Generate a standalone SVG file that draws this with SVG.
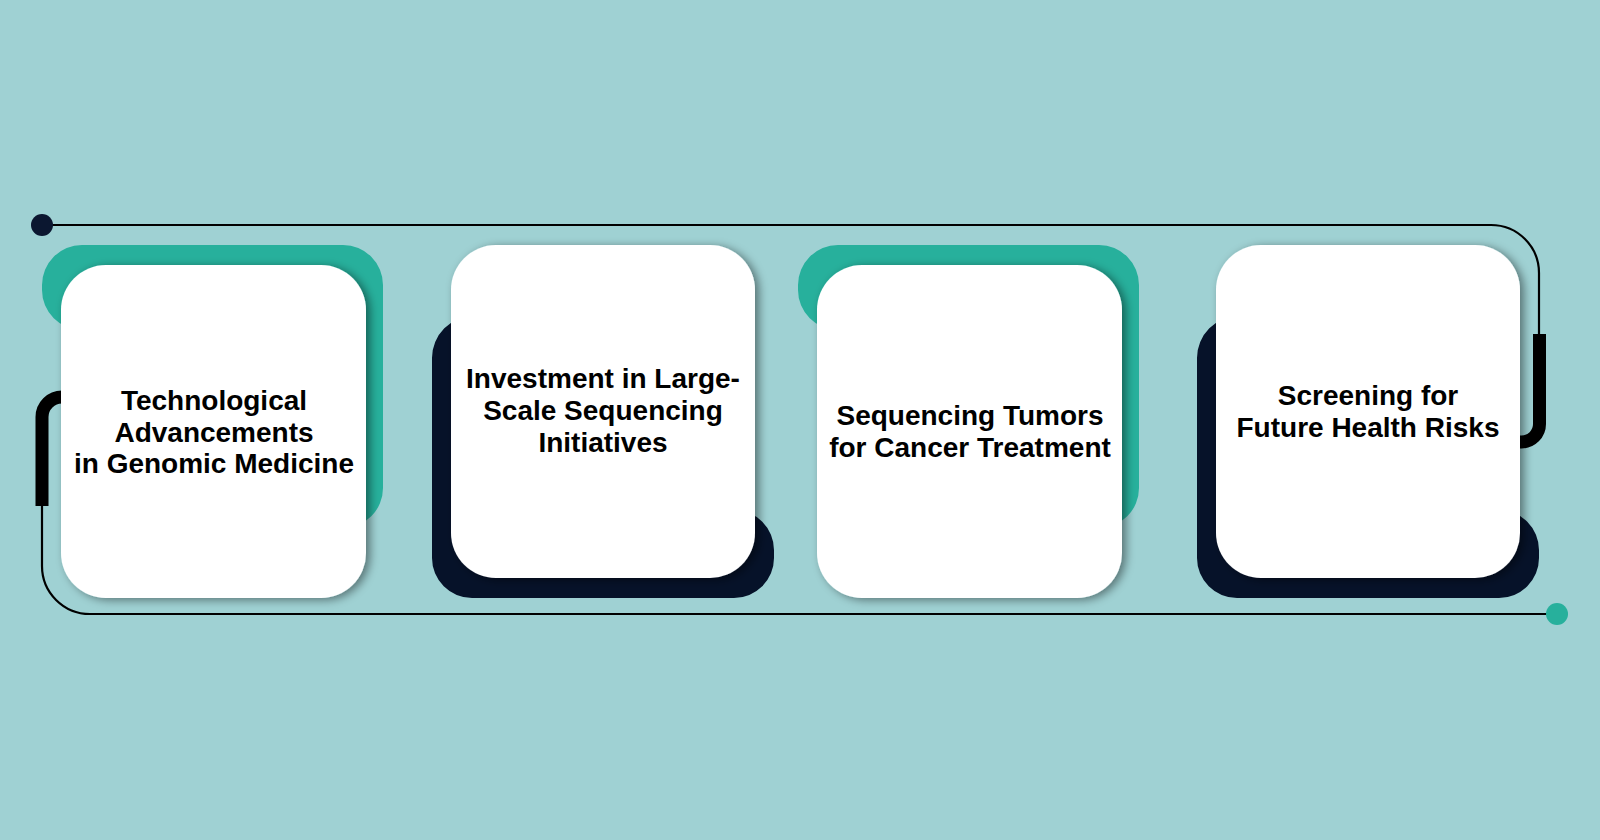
<svg xmlns="http://www.w3.org/2000/svg" width="1600" height="840" viewBox="0 0 1600 840">
  <defs>
    <style>
      .bg { fill: #9fd1d3; }
      .teal { fill: #27b09c; }
      .navy { fill: #061229; }
      .card { fill: #ffffff; filter: url(#shadow); }
      .label { font-family: "Liberation Sans", Arial, sans-serif; font-weight: bold; font-size: 28px; fill: #000000; text-anchor: middle; }
      .thin { fill: none; stroke: #000000; stroke-width: 2.2; }
      .thick { fill: none; stroke: #000000; stroke-width: 13; }
    </style>
    <filter id="shadow" x="-20%" y="-20%" width="140%" height="140%">
      <feDropShadow dx="4" dy="2" stdDeviation="5" flood-color="#000000" flood-opacity="0.45"/>
    </filter>
    <path id="tealBack" d="M 42 285 A 40 40 0 0 1 82 245 H 343 A 40 40 0 0 1 383 285 V 488 A 40 40 0 0 1 343 528 H 200 V 330 H 82 A 40 40 0 0 1 42 290 Z"/>
    <path id="navyBack" d="M 432 358 A 42 42 0 0 1 474 316 H 600 V 510 H 734 A 40 40 0 0 1 774 550 V 558 A 40 40 0 0 1 734 598 H 472 A 40 40 0 0 1 432 558 Z"/>
  </defs>

  <rect class="bg" x="0" y="0" width="1600" height="840"/>

  <g id="connectors">
    <path class="thin" d="M 42 225 H 1491 A 48 48 0 0 1 1539 273 V 340"/>
    <path class="thick" d="M 1539.5 334 V 424 A 18 18 0 0 1 1521.5 442 H 1505"/>
    <path class="thin" d="M 1557 614 H 90 A 48 48 0 0 1 42 566 V 500"/>
    <path class="thick" d="M 42 506 V 417 A 20 20 0 0 1 62 397 H 75"/>
    <circle cx="42" cy="225" r="11" fill="#0b1730"/>
    <circle cx="1557" cy="614" r="11" fill="#27b09c"/>
  </g>

  <g id="node1">
    <use href="#tealBack" class="teal"/>
    <rect class="card" x="61" y="265" width="305" height="333" rx="45" ry="45"/>
    <text class="label" x="214" y="410">Technological</text>
    <text class="label" x="214" y="441.5">Advancements</text>
    <text class="label" x="214" y="473">in Genomic Medicine</text>
  </g>

  <g id="node2">
    <use href="#navyBack" class="navy"/>
    <rect class="card" x="451" y="245" width="304" height="333" rx="45" ry="45"/>
    <text class="label" x="603" y="388">Investment in Large-</text>
    <text class="label" x="603" y="420">Scale Sequencing</text>
    <text class="label" x="603" y="452">Initiatives</text>
  </g>

  <g id="node3">
    <use href="#tealBack" class="teal" transform="translate(756,0)"/>
    <rect class="card" x="817" y="265" width="305" height="333" rx="45" ry="45"/>
    <text class="label" x="970" y="425">Sequencing Tumors</text>
    <text class="label" x="970" y="457">for Cancer Treatment</text>
  </g>

  <g id="node4">
    <use href="#navyBack" class="navy" transform="translate(765,0)"/>
    <rect class="card" x="1216" y="245" width="304" height="333" rx="45" ry="45"/>
    <text class="label" x="1368" y="405">Screening for</text>
    <text class="label" x="1368" y="437">Future Health Risks</text>
  </g>
</svg>
